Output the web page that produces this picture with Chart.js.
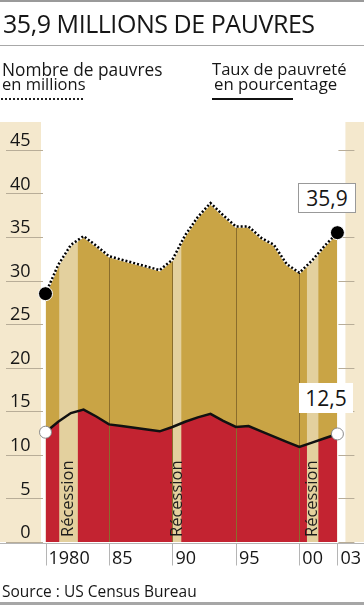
<!DOCTYPE html>
<html>
<head>
<meta charset="utf-8">
<script src="https://cdn.jsdelivr.net/npm/chart.js@4"></script>
<style>
    body { margin: 0; width: 364px; height: 605px; position: relative; overflow: hidden; background: #fff; font-family: "Open Sans", sans-serif; color: #161616; }
    #pauvres { position: absolute; left: 0; top: 0; }
    .t { position: absolute; white-space: nowrap; line-height: 1; }
    .bar { position: absolute; left: 0; width: 364px; background: #9a9a9a; }
    .box { position: absolute; background: #fff; text-align: center; font-size: 21px; line-height: 30px; height: 30px; }
</style>
</head>
<body>
<canvas id="pauvres" width="364" height="605"></canvas>

<div class="bar" style="top:0;height:2px"></div>
<div class="t" style="left:3px;top:11px;font-size:25px;letter-spacing:-0.45px">35,9 MILLIONS DE PAUVRES</div>
<div class="bar" style="top:45px;height:1px;background:#a8a8a8"></div>

<div class="t" style="left:2px;top:61px;font-size:17.3px">Nombre de pauvres</div>
<div class="t" style="left:2px;top:76px;font-size:16.5px">en millions</div>
<div style="position:absolute;left:1px;top:98px;width:82px;border-top:2px dotted #222"></div>

<div class="t" style="left:212px;top:61px;font-size:16.6px">Taux de pauvreté</div>
<div class="t" style="left:214px;top:76px;font-size:16.8px">en pourcentage</div>
<div style="position:absolute;left:212px;top:98px;width:81px;height:2px;background:#111"></div>

<div class="box" style="left:298px;top:183px;width:56px;border:1px solid #999;line-height:28px;height:28px">35,9</div>
<div class="box" style="left:299px;top:383px;width:54px">12,5</div>

<div class="t" style="left:2px;top:584px;font-size:15.5px">Source : US Census Bureau</div>
<div class="bar" style="top:602px;height:3px;background:#a6a6a6"></div>

<script>
"use strict";

/* data */
var years = [1980, 1981, 1982, 1983, 1984, 1985, 1986, 1987, 1988, 1989, 1990, 1991,
    1992, 1993, 1994, 1995, 1996, 1997, 1998, 1999, 2000, 2001, 2002, 2003];
var pauvres = [28.5, 31.8, 34.1, 35.1, 34.0, 32.8, 32.4, 32.0, 31.6, 31.2, 32.4, 35.2,
    37.3, 38.9, 37.5, 36.2, 36.2, 34.9, 34.1, 31.9, 30.9, 32.3, 34.0, 35.5];
var taux = [12.6, 13.8, 14.8, 15.2, 14.4, 13.5, 13.3, 13.1, 12.9, 12.7, 13.2, 13.8,
    14.3, 14.7, 13.9, 13.2, 13.3, 12.7, 12.1, 11.5, 10.9, 11.4, 11.9, 12.4];
var recessions = [[1981.08, 1982.55], [1990.0, 1990.7], [2000.6, 2001.5]];
var yTicks = [0, 5, 10, 15, 20, 25, 30, 35, 40, 45];
var xTicks = [1980, 1985, 1990, 1995, 2000, 2003];
var xLabels = ['1980', '85', '90', '95', '00', '03'];
var gridYears = [1985, 1990, 1995, 2000];

var gold = '#c9a445';
var red = '#c32331';
var band = '#e3d09e';
var panel = '#f4e8cd';

function pts(values) {
    return years.map(function (yr, i) { return { x: yr, y: values[i] }; });
}
function ends(a, b) {
    return years.map(function (yr, i) { return (i === 0 || i === years.length - 1) ? a : b; });
}

/* panels, recession bands, ticks */
var decor = {
    id: 'decor',
    beforeDraw: function (chart) {
        var c = chart.ctx, a = chart.chartArea, ys = chart.scales.y;
        var base = ys.getPixelForValue(0);
        c.save();
        c.fillStyle = panel;
        c.fillRect(0, a.top, a.left - 4.5, base - a.top);
        c.fillRect(a.right + 8, a.top, chart.width - a.right - 8, base - a.top);
        c.strokeStyle = '#b8ad98';
        c.lineWidth = 1;
        yTicks.forEach(function (v) {
            var y = Math.round(ys.getPixelForValue(v)) + 0.5;
            c.beginPath();
            c.moveTo(6, y); c.lineTo(a.left - 2.5, y);
            c.moveTo(a.right + 1, y); c.lineTo(a.right + 17, y);
            c.stroke();
        });
        c.restore();
    },
    beforeDatasetDraw: function (chart, args) {
        if (args.index !== 2) return;
        var c = chart.ctx, xs = chart.scales.x, ys = chart.scales.y;
        var base = ys.getPixelForValue(0);
        var area = chart.getDatasetMeta(0).data;
        c.save();
        c.beginPath();
        c.moveTo(area[0].x, base);
        area.forEach(function (p) { c.lineTo(p.x, p.y); });
        c.lineTo(area[area.length - 1].x, base);
        c.closePath();
        c.clip();
        c.fillStyle = band;
        recessions.forEach(function (r) {
            var x0 = xs.getPixelForValue(r[0]), x1 = xs.getPixelForValue(r[1]);
            c.fillRect(x0, 0, x1 - x0, base);
        });
        c.strokeStyle = '#8a6d2c';
        c.lineWidth = 1;
        gridYears.forEach(function (yr) {
            var x = Math.round(xs.getPixelForValue(yr)) + 0.5;
            c.beginPath();
            c.moveTo(x, 0); c.lineTo(x, base);
            c.stroke();
        });
        c.restore();

        c.save();
        c.fillStyle = '#1c1c1c';
        c.font = '16.5px "Open Sans"';
        c.textAlign = 'left';
        c.textBaseline = 'middle';
        recessions.forEach(function (r) {
            var xm = (xs.getPixelForValue(r[0]) + xs.getPixelForValue(r[1])) / 2;
            c.save();
            c.translate(xm, base - 5);
            c.rotate(-Math.PI / 2);
            c.fillText('Récession', 0, 0);
            c.restore();
        });
        c.restore();
    },
    afterDraw: function (chart) {
        var c = chart.ctx, xs = chart.scales.x, ys = chart.scales.y;
        var base = Math.round(ys.getPixelForValue(0)) + 1.5;
        c.save();
        c.strokeStyle = '#b5b5b5';
        c.lineWidth = 1;
        c.beginPath();
        c.moveTo(0, base); c.lineTo(chart.width, base);
        xTicks.forEach(function (v) {
            var x = Math.round(xs.getPixelForValue(v)) + 0.5;
            c.moveTo(x, base); c.lineTo(x, base + 22);
        });
        c.stroke();
        c.restore();
    }
};

var ctx = document.getElementById('pauvres').getContext('2d');
var pauvresChart = new Chart(ctx, {
    type: 'line',
    data: {
        datasets: [{
            data: pts(pauvres),
            backgroundColor: gold,
            borderWidth: 0,
            pointRadius: 0,
            fill: 'origin',
            order: 5,
        }, {
            data: pts(taux),
            backgroundColor: red,
            borderWidth: 0,
            pointRadius: 0,
            fill: 'origin',
            order: 4,
        }, {
            data: pts(taux),
            borderColor: '#111',
            borderWidth: 2.5,
            fill: false,
            pointRadius: ends(6, 0),
            pointBackgroundColor: '#fff',
            pointBorderColor: '#8a8a8a',
            pointBorderWidth: 1,
            clip: false,
            order: 3,
        }, {
            data: pts(pauvres),
            borderColor: '#fff',
            borderWidth: 2.5,
            fill: false,
            pointRadius: 0,
            order: 2,
        }, {
            data: pts(pauvres),
            borderColor: '#000',
            borderWidth: 2.5,
            borderDash: [2, 2],
            fill: false,
            pointRadius: ends(7, 0),
            pointBackgroundColor: '#000',
            pointBorderColor: '#fff',
            pointBorderWidth: 1,
            clip: false,
            order: 1,
        }]
    },
    options: {
        responsive: false,
        animation: false,
        devicePixelRatio: 1,
        layout: {
            padding: { top: 122, right: 26, left: 0, bottom: 23 }
        },
        plugins: {
            legend: { display: false },
            tooltip: { enabled: false },
        },
        elements: {
            line: { tension: 0 }
        },
        scales: {
            x: {
                type: 'linear',
                min: 1980,
                max: 2003,
                afterBuildTicks: function (s) { s.ticks = xTicks.map(function (v) { return { value: v }; }); },
                afterFit: function (s) { s.height = 40; },
                grid: { display: false, drawTicks: false },
                border: { display: false },
                ticks: {
                    align: 'start',
                    labelOffset: 3,
                    padding: 6,
                    autoSkip: false,
                    maxRotation: 0,
                    color: '#161616',
                    font: { family: 'Open Sans', size: 18 },
                    callback: function (v, i) { return xLabels[i]; }
                }
            },
            y: {
                min: 0,
                max: 48.2,
                afterBuildTicks: function (s) { s.ticks = yTicks.map(function (v) { return { value: v }; }); },
                afterFit: function (s) { s.width = 45.5; },
                grid: { display: false, drawTicks: false },
                border: { display: false },
                ticks: {
                    padding: 15,
                    labelOffset: -9,
                    color: '#161616',
                    font: { family: 'Open Sans', size: 18 },
                }
            }
        }
    },
    plugins: [decor]
});
</script>
</body>
</html>
